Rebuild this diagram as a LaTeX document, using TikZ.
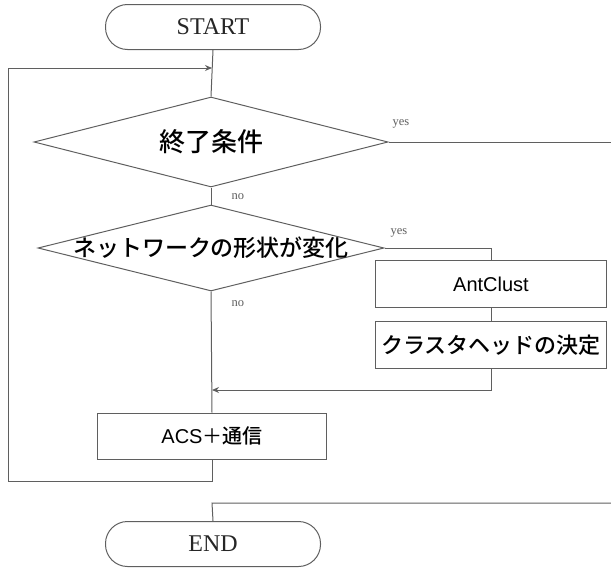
\documentclass[tikz,border=0pt]{standalone}
\usepackage{fontspec}
\setmainfont{Liberation Serif}
\newfontfamily\jpfont{Noto Sans CJK JP}[UprightFont=* Medium]
\newfontfamily\jpthin{Noto Sans CJK JP}
\newfontfamily\arialfont{Liberation Sans}
\usetikzlibrary{shapes.geometric,arrows.meta}
\definecolor{ln}{RGB}{95,95,95}
\tikzset{
  ln/.style={draw=ln, line width=1pt},
  term/.style={ln, rounded corners=22pt, minimum width=215pt, minimum height=45pt, inner sep=0pt, font=\fontsize{24}{26}\selectfont, text=black!85},
  dia/.style={ln, shape=diamond, inner sep=0pt},
  proc/.style={ln, rectangle, minimum width=231pt, minimum height=47pt, inner sep=0pt},
  jp/.style={font=\jpfont\fontsize{26}{28}\selectfont},
  lat/.style={font=\arialfont\fontsize{20}{22}\selectfont},
  yn/.style={font=\fontsize{12.5}{13}\selectfont, text=ln},
  arr/.style={-{Stealth[length=7pt,width=6pt]}}
}
\begin{document}
\begin{tikzpicture}[x=1pt,y=-1pt]
\useasboundingbox (0,0) rectangle (611,570);
\node[term] (start) at (213,27) {START};
\node[dia, minimum width=354pt, minimum height=90pt] (c1) at (211,142) {};
\node[jp] (t1) at (c1) {終了条件};
\node[dia, minimum width=346pt, minimum height=86pt] (c2) at (211,248) {};
\node[jp, font=\jpfont\fontsize{23}{25}\selectfont] (t2) at (c2) {ネットワークの形状が変化};
\node[proc] (b1) at (491,284) {};
\node[lat] (tb1) at (b1) {AntClust};
\node[proc, minimum height=47pt] (b2) at (491,345) {};
\node[jp, font=\jpfont\fontsize{22}{24}\selectfont] (tb2) at (b2) {クラスタヘッドの決定};
\node[proc, minimum width=229pt, minimum height=46pt] (b3) at (212,436) {};
\node[lat] (tb3) at (b3) {ACS{\jpthin ＋}{\jpfont 通信}};
\node[term] (end) at (213,544) {END};
\coordinate (top) at (212,68);
\coordinate (loopl) at (8,481);
\coordinate (merge) at (212,390);
\coordinate (ex1) at (611,142);
\coordinate (ex2) at (611,503);
\coordinate (endc) at (212,503);
\coordinate (yesr) at (491,248);
% connectors
\draw[ln] (start.south) -- (c1.north);
\draw[ln] (c1.south) -- (c2.north);
\draw[ln] (c1.east) -- (ex1);
\draw[ln] (c2.east) -- (yesr) -- (b1.north);
\draw[ln] (b1.south) -- (b2.north);
\draw[ln,arr] (b2.south) |- (merge);
\draw[ln] (c2.south) -- (b3.north);
\draw[ln,arr] (b3.south) |- (loopl) |- (top);
\draw[ln] (ex2) -- (endc) -- (end.north);
% labels
\node[yn, anchor=south west] (y1) at (389,132) {yes};
\node[yn, anchor=west] (n1) at (228,197) {no};
\node[yn, anchor=south west] (y2) at (387,241) {yes};
\node[yn, anchor=west] (n2) at (228,304) {no};
\end{tikzpicture}
\end{document}
